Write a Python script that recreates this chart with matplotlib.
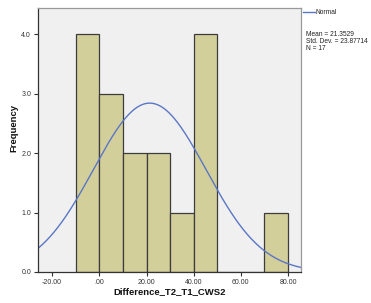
import matplotlib
matplotlib.use("Agg")
import matplotlib.pyplot as plt
from matplotlib.lines import Line2D
import numpy as np

plt.rcParams["font.family"] = ["Liberation Sans", "DejaVu Sans"]

bin_edges = [-10, 0, 10, 20, 30, 40, 50, 60, 70, 80]
counts = [4, 3, 2, 2, 1, 4, 0, 0, 1]
mean = 21.3529
std = 23.87714
n = 17

xticks = [-20, 0, 20, 40, 60, 80]
xtick_labels = ["-20.00", ".00", "20.00", "40.00", "60.00", "80.00"]
yticks = [0, 1, 2, 3, 4]

W, H = 371, 303
fig = plt.figure(figsize=(W / 100, H / 100), dpi=100)
ax = fig.add_axes([38 / W, 1 - 272 / H, 263 / W, 264 / H])
ax.set_facecolor("#f0f0f0")

lefts = bin_edges[:-1]
widths = np.diff(bin_edges)
ax.bar(lefts, counts, width=widths, align="edge", color="#d3cf9b",
       edgecolor="#3c3c3c", linewidth=0.9)

bw = widths[0]
xs = np.linspace(-26, 85.5, 400)
ys = n * bw * np.exp(-0.5 * ((xs - mean) / std) ** 2) / (std * np.sqrt(2 * np.pi))
ax.plot(xs, ys, color="#5b76c6", linewidth=1.0)

ax.set_xlim(-26, 85.5)
ax.set_ylim(0, 4.44)
ax.set_xticks(xticks)
ax.set_xticklabels(xtick_labels)
ax.set_yticks(yticks)
ax.set_yticklabels(["%.1f" % v for v in yticks])
ax.tick_params(labelsize=5, length=3, width=0.8, colors="#333333", pad=2)
for s in ["left", "bottom"]:
    ax.spines[s].set_color("#333333")
    ax.spines[s].set_linewidth(0.9)
for s in ["top", "right"]:
    ax.spines[s].set_color("#999999")
    ax.spines[s].set_linewidth(0.9)

fig.text(170 / W, 1 - 292 / H, "Difference_T2_T1_CWS2", fontsize=6.8,
         fontweight="bold", ha="center", va="center", color="#111111")
fig.text(14 / W, 1 - 128 / H, "Frequency", fontsize=6.8, fontweight="bold",
         rotation=90, ha="center", va="center", color="#111111")

fig.add_artist(Line2D([303 / W, 315 / W], [1 - 12 / H, 1 - 12 / H],
                      color="#5b76c6", linewidth=1.0))
fig.text(316 / W, 1 - 12 / H, "Normal", fontsize=4.8, va="center", color="#222222")
fig.text(306 / W, 1 - 31 / H,
         "Mean = %.4f\nStd. Dev. = %.5f\nN = %d" % (mean, std, n),
         fontsize=4.8, va="top", linespacing=0.95, color="#222222")

fig.savefig("out.png", dpi=100)
